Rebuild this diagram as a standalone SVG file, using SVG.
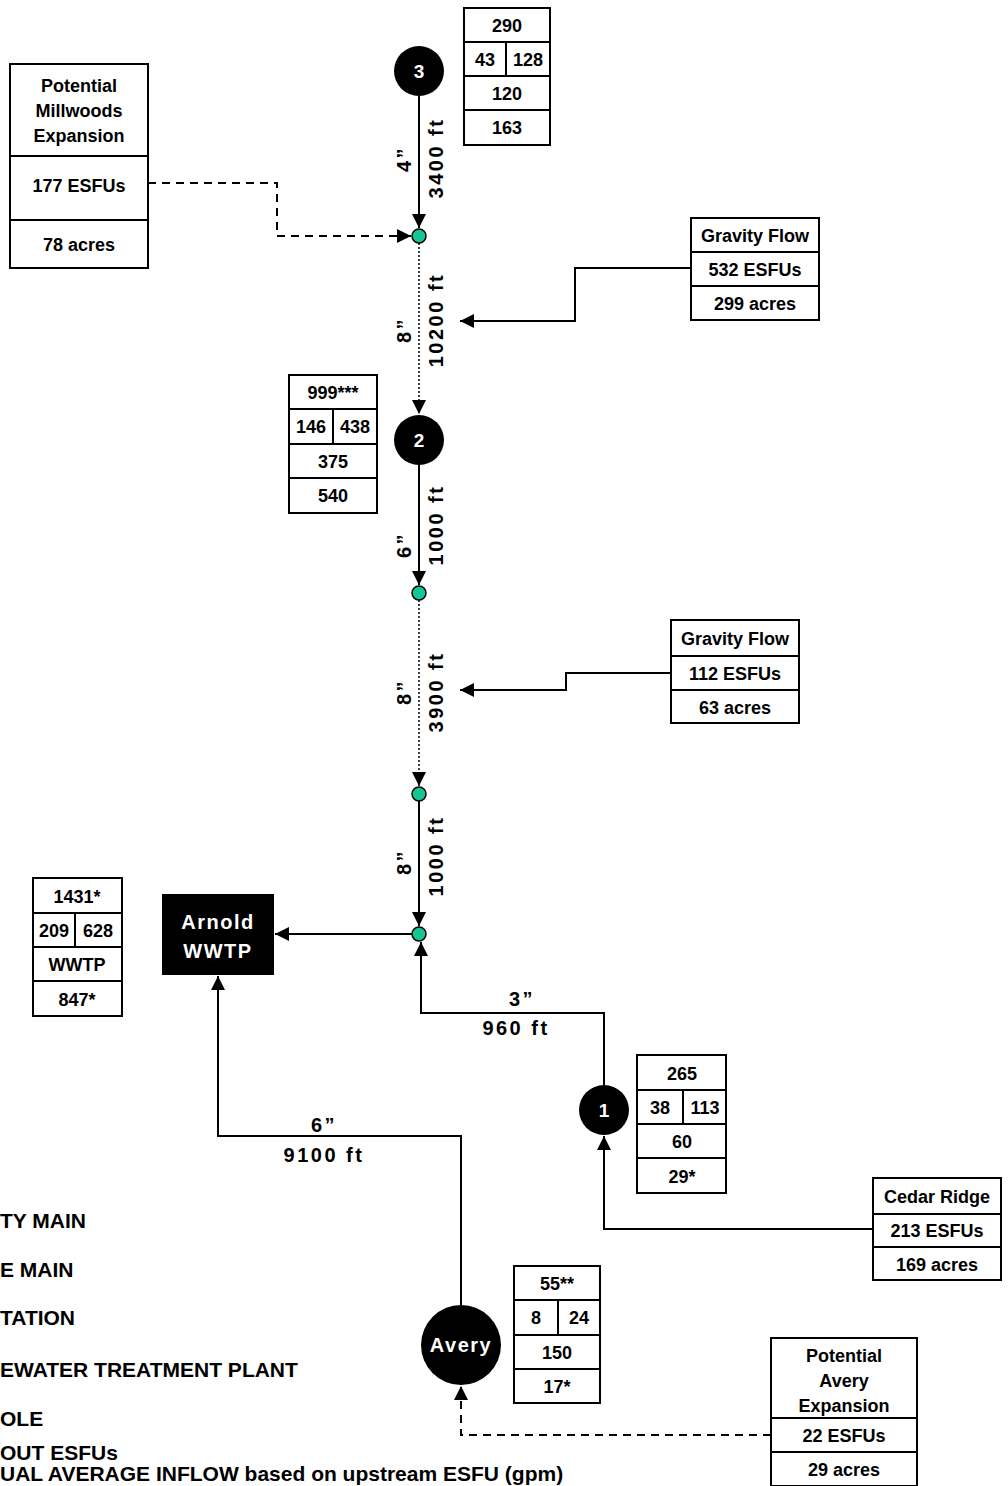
<svg xmlns="http://www.w3.org/2000/svg" width="1008" height="1486" viewBox="0 0 1008 1486">
<style>
.box{fill:#fff;stroke:#000;stroke-width:2}
.t{font-family:"Liberation Sans",Arial,sans-serif;font-weight:bold;font-size:18px;fill:#000;text-anchor:middle}
.lbl{font-family:"Liberation Sans",Arial,sans-serif;font-weight:bold;font-size:20px;fill:#000;text-anchor:middle;letter-spacing:2.5px}
.w{font-family:"Liberation Sans",Arial,sans-serif;font-weight:bold;fill:#fff;text-anchor:middle}
.leg{font-family:"Liberation Sans",Arial,sans-serif;font-weight:bold;font-size:21px;fill:#000}
.ln{fill:none;stroke:#000;stroke-width:2}
.dash{fill:none;stroke:#000;stroke-width:2;stroke-dasharray:8,6}
.dot{fill:none;stroke:#000;stroke-width:1.5;stroke-dasharray:2,2}
.mh{fill:#14C596;stroke:#000;stroke-width:1.5}
</style>
<defs>
<marker id="ar" markerUnits="userSpaceOnUse" markerWidth="14" markerHeight="14" viewBox="0 0 14 14" refX="14" refY="7" orient="auto">
<path d="M0,0 L14,7 L0,14 Z" fill="#000"/>
</marker>
</defs>

<g id="connectors">
<line class="ln" x1="419" y1="96" x2="419" y2="228" marker-end="url(#ar)"/>
<polyline class="dash" points="148,183 277,183 277,236 411,236" marker-end="url(#ar)"/>
<line class="dot" x1="419" y1="243" x2="419" y2="414" marker-end="url(#ar)"/>
<polyline class="ln" points="691,268 575,268 575,321 460,321" marker-end="url(#ar)"/>
<line class="ln" x1="419" y1="465" x2="419" y2="585" marker-end="url(#ar)"/>
<line class="dot" x1="419" y1="600" x2="419" y2="786" marker-end="url(#ar)"/>
<polyline class="ln" points="671,673 566,673 566,690 460,690" marker-end="url(#ar)"/>
<line class="ln" x1="419" y1="801" x2="419" y2="926" marker-end="url(#ar)"/>
<line class="ln" x1="412" y1="934" x2="275" y2="934" marker-end="url(#ar)"/>
<polyline class="ln" points="604,1085 604,1013 421,1013 421,942" marker-end="url(#ar)"/>
<polyline class="ln" points="873,1229 604,1229 604,1136" marker-end="url(#ar)"/>
<polyline class="ln" points="461,1305 461,1136 218,1136 218,976" marker-end="url(#ar)"/>
<polyline class="dash" points="771,1435 461,1435 461,1386" marker-end="url(#ar)"/>
<text class="lbl" transform="translate(411,159) rotate(-90)">4”</text>
<text class="lbl" transform="translate(443,158) rotate(-90)">3400 ft</text>
<text class="lbl" transform="translate(411,330) rotate(-90)">8”</text>
<text class="lbl" transform="translate(443,320) rotate(-90)">10200 ft</text>
<text class="lbl" transform="translate(411,545) rotate(-90)">6”</text>
<text class="lbl" transform="translate(443,525) rotate(-90)">1000 ft</text>
<text class="lbl" transform="translate(411,692) rotate(-90)">8”</text>
<text class="lbl" transform="translate(443,692) rotate(-90)">3900 ft</text>
<text class="lbl" transform="translate(411,862) rotate(-90)">8”</text>
<text class="lbl" transform="translate(443,856) rotate(-90)">1000 ft</text>
<text class="lbl" x="522" y="1006">3”</text>
<text class="lbl" x="516" y="1035">960 ft</text>
<text class="lbl" x="324" y="1132">6”</text>
<text class="lbl" x="324" y="1162">9100 ft</text>
</g>

<g id="mh1"><circle class="mh" cx="419" cy="236" r="7"/></g>
<g id="mh2"><circle class="mh" cx="419" cy="593" r="7"/></g>
<g id="mh3"><circle class="mh" cx="419" cy="794" r="7"/></g>
<g id="mh4"><circle class="mh" cx="419" cy="934" r="7"/></g>

<g id="ls3">
<circle cx="419" cy="71" r="25" fill="#000"/>
<text class="w" x="419" y="78" font-size="19">3</text>
</g>
<g id="table3">
<rect class="box" x="464" y="8" width="86" height="137"/>
<line class="ln" x1="464" y1="42" x2="550" y2="42"/>
<line class="ln" x1="464" y1="76" x2="550" y2="76"/>
<line class="ln" x1="464" y1="110" x2="550" y2="110"/>
<line class="ln" x1="506" y1="42" x2="506" y2="76"/>
<text class="t" x="507" y="32">290</text>
<text class="t" x="485" y="66">43</text>
<text class="t" x="528" y="66">128</text>
<text class="t" x="507" y="100">120</text>
<text class="t" x="507" y="134">163</text>
</g>

<g id="millwoods">
<rect class="box" x="10" y="64" width="138" height="204"/>
<line class="ln" x1="10" y1="156" x2="148" y2="156"/>
<line class="ln" x1="10" y1="220" x2="148" y2="220"/>
<text class="t" x="79" y="92">Potential</text>
<text class="t" x="79" y="117">Millwoods</text>
<text class="t" x="79" y="142">Expansion</text>
<text class="t" x="79" y="192">177 ESFUs</text>
<text class="t" x="79" y="251">78 acres</text>
</g>

<g id="gravity1">
<rect class="box" x="691" y="218" width="128" height="102"/>
<line class="ln" x1="691" y1="252" x2="819" y2="252"/>
<line class="ln" x1="691" y1="286" x2="819" y2="286"/>
<text class="t" x="755" y="242">Gravity Flow</text>
<text class="t" x="755" y="276">532 ESFUs</text>
<text class="t" x="755" y="310">299 acres</text>
</g>

<g id="ls2">
<circle cx="419" cy="440" r="25" fill="#000"/>
<text class="w" x="419" y="447" font-size="19">2</text>
</g>
<g id="table2">
<rect class="box" x="289" y="375" width="88" height="138"/>
<line class="ln" x1="289" y1="409" x2="377" y2="409"/>
<line class="ln" x1="289" y1="444" x2="377" y2="444"/>
<line class="ln" x1="289" y1="478" x2="377" y2="478"/>
<line class="ln" x1="333" y1="409" x2="333" y2="444"/>
<text class="t" x="333" y="399">999***</text>
<text class="t" x="311" y="433">146</text>
<text class="t" x="355" y="433">438</text>
<text class="t" x="333" y="468">375</text>
<text class="t" x="333" y="502">540</text>
</g>

<g id="gravity2">
<rect class="box" x="671" y="620" width="128" height="103"/>
<line class="ln" x1="671" y1="656" x2="799" y2="656"/>
<line class="ln" x1="671" y1="690" x2="799" y2="690"/>
<text class="t" x="735" y="645">Gravity Flow</text>
<text class="t" x="735" y="680">112 ESFUs</text>
<text class="t" x="735" y="714">63 acres</text>
</g>

<g id="wwtp">
<rect x="162" y="894" width="112" height="81" fill="#000"/>
<text class="w" x="218" y="929" font-size="20" letter-spacing="1.5">Arnold</text>
<text class="w" x="218" y="958" font-size="20" letter-spacing="1.5">WWTP</text>
</g>
<g id="tablewwtp">
<rect class="box" x="33" y="878" width="89" height="138"/>
<line class="ln" x1="33" y1="913" x2="122" y2="913"/>
<line class="ln" x1="33" y1="947" x2="122" y2="947"/>
<line class="ln" x1="33" y1="981" x2="122" y2="981"/>
<line class="ln" x1="75" y1="913" x2="75" y2="947"/>
<text class="t" x="77" y="903">1431*</text>
<text class="t" x="54" y="937">209</text>
<text class="t" x="98" y="937">628</text>
<text class="t" x="77" y="971">WWTP</text>
<text class="t" x="77" y="1006">847*</text>
</g>

<g id="ls1">
<circle cx="604" cy="1110" r="25" fill="#000"/>
<text class="w" x="604" y="1117" font-size="19">1</text>
</g>
<g id="table1">
<rect class="box" x="637" y="1055" width="89" height="138"/>
<line class="ln" x1="637" y1="1090" x2="726" y2="1090"/>
<line class="ln" x1="637" y1="1124" x2="726" y2="1124"/>
<line class="ln" x1="637" y1="1158" x2="726" y2="1158"/>
<line class="ln" x1="683" y1="1090" x2="683" y2="1124"/>
<text class="t" x="682" y="1080">265</text>
<text class="t" x="660" y="1114">38</text>
<text class="t" x="705" y="1114">113</text>
<text class="t" x="682" y="1148">60</text>
<text class="t" x="682" y="1183">29*</text>
</g>

<g id="cedar">
<rect class="box" x="873" y="1178" width="128" height="102"/>
<line class="ln" x1="873" y1="1214" x2="1001" y2="1214"/>
<line class="ln" x1="873" y1="1247" x2="1001" y2="1247"/>
<text class="t" x="937" y="1203">Cedar Ridge</text>
<text class="t" x="937" y="1237">213 ESFUs</text>
<text class="t" x="937" y="1271">169 acres</text>
</g>

<g id="avery">
<circle cx="461" cy="1345" r="40" fill="#000"/>
<text class="w" x="461" y="1352" font-size="20" letter-spacing="1.5">Avery</text>
</g>
<g id="tableavery">
<rect class="box" x="514" y="1266" width="86" height="137"/>
<line class="ln" x1="514" y1="1300" x2="600" y2="1300"/>
<line class="ln" x1="514" y1="1335" x2="600" y2="1335"/>
<line class="ln" x1="514" y1="1369" x2="600" y2="1369"/>
<line class="ln" x1="558" y1="1300" x2="558" y2="1335"/>
<text class="t" x="557" y="1290">55**</text>
<text class="t" x="536" y="1324">8</text>
<text class="t" x="579" y="1324">24</text>
<text class="t" x="557" y="1359">150</text>
<text class="t" x="557" y="1393">17*</text>
</g>

<g id="averyexp">
<rect class="box" x="771" y="1338" width="146" height="148"/>
<line class="ln" x1="771" y1="1418" x2="917" y2="1418"/>
<line class="ln" x1="771" y1="1452" x2="917" y2="1452"/>
<text class="t" x="844" y="1362">Potential</text>
<text class="t" x="844" y="1387">Avery</text>
<text class="t" x="844" y="1412">Expansion</text>
<text class="t" x="844" y="1442">22 ESFUs</text>
<text class="t" x="844" y="1476">29 acres</text>
</g>

<g id="legend">
<text class="leg" x="0" y="1228">TY MAIN</text>
<text class="leg" x="0" y="1277">E MAIN</text>
<text class="leg" x="0" y="1325">TATION</text>
<text class="leg" x="0" y="1377">EWATER TREATMENT PLANT</text>
<text class="leg" x="0" y="1426">OLE</text>
<text class="leg" x="0" y="1460">OUT ESFUs</text>
<text class="leg" x="0" y="1481" font-size="20">UAL AVERAGE INFLOW based on upstream ESFU (gpm)</text>
</g>
</svg>
